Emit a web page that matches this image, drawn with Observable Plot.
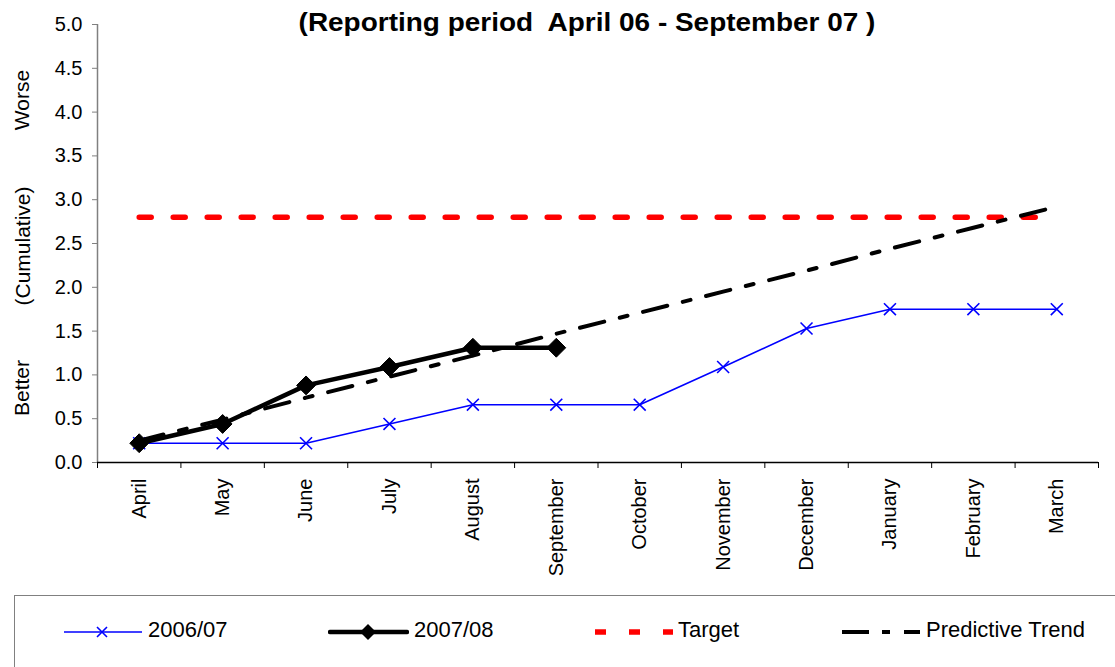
<!DOCTYPE html>
<html>
<head>
<meta charset="utf-8">
<script src="https://cdn.jsdelivr.net/npm/d3@7"></script>
<script src="https://cdn.jsdelivr.net/npm/@observablehq/plot@0.6"></script>
<style>
  body { margin: 0; background: #fff; font-family: "Liberation Sans", Arial, sans-serif; }
  #wrap { position: relative; width: 1115px; height: 667px; overflow: hidden; }
  #title { position: absolute; top: 6.5px; left: 587px; font-weight: bold; font-size: 26.5px; line-height: 30px; white-space: pre; color: #000; transform: translateX(-50%) scaleX(1.055); }
  .ylab { position: absolute; font-size: 21px; white-space: nowrap; transform: translate(-50%, -50%) rotate(-90deg); color: #000; }
  #legendbox { position: absolute; left: 14px; top: 595px; width: 1120px; height: 90px; border: 1px solid #808080; box-sizing: border-box; }
  .lsw { position: absolute; top: 620px; }
  .ltxt { position: absolute; top: 617px; font-size: 22px; line-height: 26px; white-space: nowrap; color: #000; }
  #chart { position: absolute; left: 0; top: 0; }
</style>
</head>
<body>
<div id="wrap">
  <div id="chart"></div>
  <div id="title">(Reporting period  April 06 - September 07 )</div>
  <div class="ylab" style="left:22px; top:100px;">Worse</div>
  <div class="ylab" style="left:23px; top:246px;">(Cumulative)</div>
  <div class="ylab" style="left:22px; top:388px;">Better</div>
  <div id="legendbox"></div>
  <div id="legend"></div>
</div>
<script>
const months = ["April","May","June","July","August","September","October","November","December","January","February","March"];
const series0607 = [0.22,0.22,0.22,0.44,0.66,0.66,0.66,1.09,1.53,1.75,1.75,1.75];
const series0708 = [0.22,0.44,0.88,1.09,1.31,1.31];
const targetValues = [2.8,2.8,2.8,2.8,2.8,2.8,2.8,2.8,2.8,2.8,2.8,2.8];
const trendValues = [0.25,0.49,0.74,0.98,1.22,1.47,1.71,1.95,2.19,2.44,2.68,2.92];
const yTicks = [0,0.5,1,1.5,2,2.5,3,3.5,4,4.5,5];

const rows = (vals) => vals.map((v, i) => ({i, month: months[i], v}));
const d0607 = rows(series0607);
const d0708 = rows(series0708);
const dTarget = rows(targetValues);
const dTrend = rows(trendValues);
const idx = months.map((m, i) => i);
const bounds = months.map((m, i) => i - 0.5).concat([months.length - 0.5]);

const plot = Plot.plot({
  width: 1115,
  height: 592,
  marginTop: 24,
  marginLeft: 97,
  marginRight: 17,
  marginBottom: 130,
  style: {fontFamily: "'Liberation Sans', Arial, sans-serif", fontSize: "20px", color: "#000", background: "#fff"},
  x: {type: "linear", domain: [-0.5, months.length - 0.5]},
  y: {domain: [0, 5]},
  marks: [
    Plot.axisY(yTicks, {tickSize: 5, tickPadding: 10, tickFormat: d => d.toFixed(1), stroke: "#808080", fill: "#000", fontSize: 20, label: null}),
    Plot.axisX(bounds, {tickSize: 6, tickFormat: () => "", stroke: "#000", label: null}),
    Plot.axisX(idx, {tickSize: 0, tickPadding: 16, tickRotate: -90, tickFormat: i => months[i], fontSize: 20, fill: "#000", label: null}),
    Plot.ruleX([-0.5], {stroke: "#808080", strokeWidth: 1.5}),
    Plot.ruleY([0], {stroke: "#000", strokeWidth: 1.5}),
    Plot.line(d0607, {x: "i", y: "v", stroke: "#0000FF", strokeWidth: 1.6}),
    Plot.dot(d0607, {x: "i", y: "v", symbol: "times", r: 5.5, stroke: "#0000FF", strokeWidth: 1.6}),
    Plot.line(d0708, {x: "i", y: "v", stroke: "#000", strokeWidth: 4.5, strokeLinejoin: "round"}),
    Plot.dot(d0708, {x: "i", y: "v", symbol: "diamond2", r: 8.5, fill: "#000", stroke: "#000", strokeWidth: 1}),
    Plot.line(dTarget, {x: "i", y: "v", stroke: "#FF0000", strokeWidth: 5.5, strokeDasharray: "12,22"}),
    Plot.line(dTrend, {x: "i", y: "v", stroke: "#000", strokeWidth: 4, strokeDasharray: "25,16,8,16"})
  ]
});
document.getElementById("chart").appendChild(plot);

// legend (swatch svg is 24px tall, line at its middle -> y = 632)
const legendItems = [
  {label: "2006/07", sx: 64, w: 78, tx: 148, draw: `<line x1="0" y1="12" x2="78" y2="12" stroke="#0000FF" stroke-width="1.6"/><path d="M33,7 L43,17 M43,7 L33,17" stroke="#0000FF" stroke-width="1.6"/>`},
  {label: "2007/08", sx: 328, w: 81, tx: 414, draw: `<line x1="2" y1="12" x2="79" y2="12" stroke="#000" stroke-width="4.5" stroke-linecap="round"/><path d="M40,4 L48,12 L40,20 L32,12 Z" fill="#000"/>`},
  {label: "Target", sx: 595, w: 78, tx: 678, draw: `<line x1="0" y1="12" x2="78" y2="12" stroke="#FF0000" stroke-width="5.5" stroke-dasharray="11,23"/>`},
  {label: "Predictive Trend", sx: 842, w: 78, tx: 926, draw: `<line x1="0" y1="12" x2="78" y2="12" stroke="#000" stroke-width="4" stroke-dasharray="27,13,8,14"/>`}
];
const leg = document.getElementById("legend");
for (const it of legendItems) {
  const s = document.createElement("div");
  s.className = "lsw";
  s.style.left = it.sx + "px";
  s.innerHTML = `<svg width="${it.w}" height="24" style="display:block">${it.draw}</svg>`;
  leg.appendChild(s);
  const t = document.createElement("div");
  t.className = "ltxt";
  t.style.left = it.tx + "px";
  t.textContent = it.label;
  leg.appendChild(t);
}
</script>
</body>
</html>
